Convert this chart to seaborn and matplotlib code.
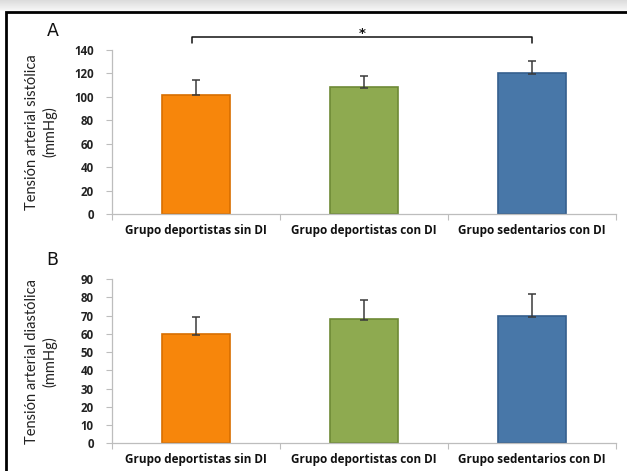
import numpy as np
import pandas as pd
import matplotlib
matplotlib.use("Agg")
import matplotlib.pyplot as plt
import seaborn as sns
from matplotlib.patches import Rectangle

categories = ["Grupo deportistas sin DI", "Grupo deportistas con DI", "Grupo sedentarios con DI"]
sistolica = [102, 108.5, 120]
sistolica_err = [12, 9.5, 10.8]
diastolica = [60, 68, 70]
diastolica_err = [9.3, 10.5, 11.8]
yticks_a = [0, 20, 40, 60, 80, 100, 120, 140]
yticks_b = [0, 10, 20, 30, 40, 50, 60, 70, 80, 90]

bar_colors = ["#F7860B", "#8EAA50", "#4877A8"]
edge_colors = ["#D86E00", "#6E8A36", "#355F8E"]

sns.set_theme(style="white")
plt.rcParams["font.family"] = ["Lato", "DejaVu Sans"]

W, H = 627, 471
fig = plt.figure(figsize=(W / 100, H / 100), dpi=100)

# top shadow band
gax = fig.add_axes([0, 1 - 11 / H, 1, 11 / H])
grad = np.linspace(0.86, 0.97, 20).reshape(-1, 1)
gax.imshow(np.repeat(grad, 10, axis=1), cmap="gray", vmin=0, vmax=1, aspect="auto", extent=[0, 1, 0, 1])
gax.set_axis_off()

# frame
fig.patches.append(Rectangle((6 / W, -0.05), 1.1, 1 - 12 / H + 0.05, transform=fig.transFigure,
                             fill=False, edgecolor="black", linewidth=2.0, zorder=10))

ax_left = 111.7 / W
ax_width = (616 - 111.7) / W
axA = fig.add_axes([ax_left, 1 - 214 / H, ax_width, (214 - 50) / H])
axB = fig.add_axes([ax_left, 1 - 443.3 / H, ax_width, (443.3 - 279) / H])

bold_font = ["Open Sans", "DejaVu Sans"]


def draw(ax, vals, errs, ymax, yticks, ylabel, letter):
    df = pd.DataFrame({"grupo": categories, "valor": vals})
    sns.barplot(data=df, x="grupo", y="valor", hue="grupo", palette=bar_colors, legend=False,
                width=0.405, ax=ax, saturation=1)
    for p, ec in zip(ax.patches, edge_colors):
        p.set_edgecolor(ec)
        p.set_linewidth(1.2)
    xs = np.arange(len(categories))
    ax.errorbar(xs, vals, yerr=[np.zeros(len(vals)) + 0.6, errs], fmt="none", ecolor="#3a3a3a",
                elinewidth=1.1, capsize=2.6, capthick=1.1, zorder=5)
    ax.set_xlim(-0.5, 2.5)
    ax.set_ylim(0, ymax)
    ax.set_yticks(yticks)
    ax.set_yticklabels([str(t) for t in yticks], fontsize=8.3, fontweight="bold", color="#222222",
                       family=bold_font)
    ax.set_xticks(xs)
    ax.set_xticklabels(categories, fontsize=8.5, fontweight="bold", color="#111111", family=bold_font)
    ax.set_xticks([-0.5, 0.5, 1.5, 2.5], minor=True)
    ax.tick_params(axis="x", which="major", length=0, pad=7)
    ax.tick_params(axis="x", which="minor", length=4, width=0.8, color="#bdbdbd", direction="out", bottom=True)
    ax.tick_params(axis="y", which="major", length=4, width=0.8, color="#bdbdbd", direction="out", left=True, pad=9)
    for s in ["top", "right"]:
        ax.spines[s].set_visible(False)
    for s in ["left", "bottom"]:
        ax.spines[s].set_color("#bdbdbd")
        ax.spines[s].set_linewidth(0.9)
    ax.set_xlabel("")
    ax.set_ylabel(ylabel, fontsize=10.5, color="#222222", linespacing=1.25)
    ax.yaxis.set_label_coords(-0.108, 0.5)
    ax.text(-0.117, 1.115, letter, transform=ax.transAxes, fontsize=12.5, ha="center", va="center",
            color="#111111", family=["DejaVu Sans"])


draw(axA, sistolica, sistolica_err, 140, yticks_a, "Tensión arterial sistólica\n(mmHg)", "A")
draw(axB, diastolica, diastolica_err, 90, yticks_b, "Tensión arterial diastólica\n(mmHg)", "B")

# significance bracket between group 1 and group 3
x0, x1 = -0.025, 2.0
yb, yt = 146, 151
axA.plot([x0, x0, x1, x1], [yb, yt, yt, yb], color="#111111", lw=1.1, clip_on=False)
axA.text((x0 + x1) / 2, 154.5, "*", ha="center", va="center", fontsize=9.5, fontweight="bold",
         color="#111111", family=["DejaVu Sans"])

fig.savefig("out.png", dpi=100)
